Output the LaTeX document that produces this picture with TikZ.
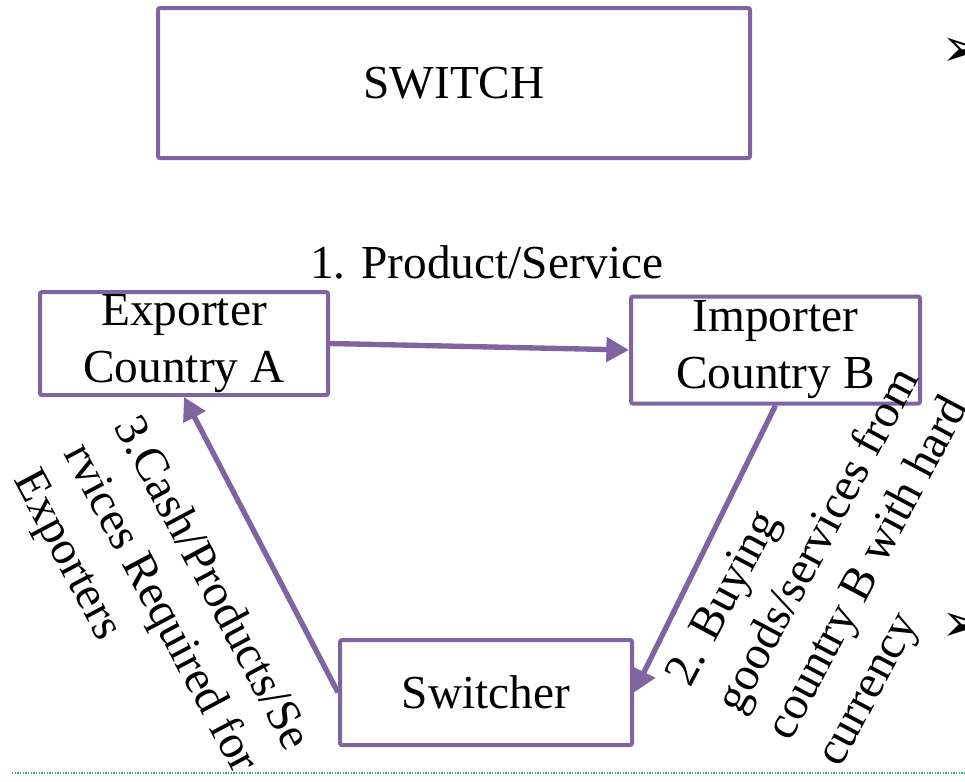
\documentclass[tikz,border=0pt]{standalone}
\usepackage{fontspec}
\setmainfont{Liberation Serif}
\newfontfamily\dingfont{DejaVu Sans}
\usetikzlibrary{arrows.meta,positioning}
\usepackage{xcolor}
\definecolor{switchpurple}{RGB}{128,100,162}
\definecolor{rulegreen}{RGB}{60,150,130}

\begin{document}
\begin{tikzpicture}[x=0.75pt, y=-0.75pt,
    box/.style={rectangle, draw=switchpurple, line width=3pt, rounded corners=1.5pt, inner sep=0pt, align=center, font=\fontsize{35.5}{42.6}\selectfont},
    flow/.style={-{Triangle[length=17pt,width=18pt]}, draw=switchpurple, line width=4pt},
    lbl/.style={inner sep=0pt, align=left, font=\fontsize{35.5}{42.6}\selectfont},
    bullet/.style={inner sep=0pt, anchor=west, font=\dingfont\fontsize{40}{40}\selectfont}]
    \useasboundingbox (0,0) rectangle (965,782);
    % boxes
    \node [box, minimum width=444pt, minimum height=112.5pt] (switch) at (454,83) {SWITCH};
    \node [box, minimum width=216pt, minimum height=77.25pt] (exporter) at (184,343.5) {Exporter\\Country A};
    \node [box, minimum width=216.75pt, minimum height=80.25pt] (importer) at (775.5,350) {Importer\\Country B};
    \node [box, minimum width=219pt, minimum height=78.75pt] (switcher) at (486,692.5) {Switcher};
    % flows round the triangle
    \draw [flow] (exporter.east) -- (importer.west);
    \draw [flow] (importer.south) -- (switcher.east);
    \draw [flow] (switcher.west) -- (exporter.south);
    % labels
    \node [lbl] (productlbl) at (487,262) {1. Product/Service};
    \node [lbl, rotate=62] (buylbl) at (846,555) {2. Buying\\goods/services from\\country B with hard\\currency};
    \node [lbl, rotate=-62] (cashlbl) at (160,611) {3.Cash/Products/Se\\rvices Required for\\Exporters};
    % bullets at the right edge
    \node [bullet] (bulletone) at (941,52) {➢};
    \node [bullet] (bullettwo) at (941,627) {➢};
    % footer rule
    \draw [rulegreen, line width=1.2pt, dash pattern=on 1pt off 1pt] (12,773) -- (965,773);
\end{tikzpicture}
\end{document}
